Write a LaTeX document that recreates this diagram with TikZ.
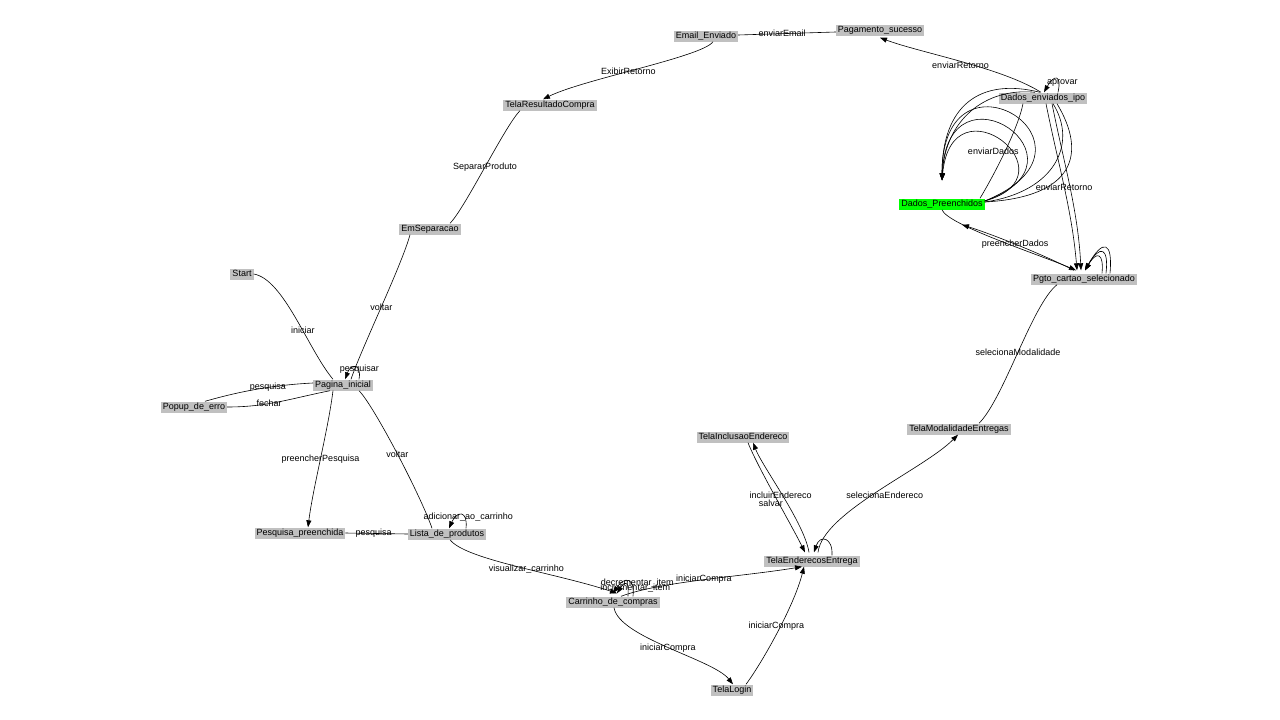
\documentclass[tikz,border=0pt]{standalone}
\usepackage{fontspec}
\setmainfont{Liberation Sans}
\usetikzlibrary{arrows.meta}
\definecolor{cinza}{RGB}{192,192,192}
\definecolor{verde}{RGB}{0,255,0}

\begin{document}
\begin{tikzpicture}[x=1pt, y=-1pt,
    estado/.style={fill=cinza, inner xsep=2pt, inner ysep=1pt, text height=7pt, text depth=2pt, font=\fontsize{9}{10}\selectfont},
    rot/.style={inner sep=0pt, font=\fontsize{9}{10}\selectfont},
    linha/.style={draw, line width=0.6pt},
    seta/.style={linha, -{Triangle[length=7pt,width=5pt]}}]

            \useasboundingbox (0,0) rectangle (1280,720);

            % Etats
            \node[estado] (A) at (242,274) {Start};
            \node[estado] (B) at (343,385) {Pagina\_inicial};
            \node[estado] (C) at (194,407) {Popup\_de\_erro};
            \node[estado] (D) at (300,533) {Pesquisa\_preenchida};
            \node[estado] (E) at (447,534) {Lista\_de\_produtos};
            \node[estado] (F) at (613,602) {Carrinho\_de\_compras};
            \node[estado] (G) at (732,690) {TelaLogin};
            \node[estado] (H) at (812,561) {TelaEnderecosEntrega};
            \node[estado] (I) at (743,437) {TelaInclusaoEndereco};
            \node[estado] (J) at (959,429) {TelaModalidadeEntregas};
            \node[estado] (K) at (1084,279) {Pgto\_cartao\_selecionado};
            \node[estado, fill=verde] (L) at (942,204) {Dados\_Preenchidos};
            \node[estado] (M) at (1043,98) {Dados\_enviados\_ipo};
            \node[estado] (N) at (880,30) {Pagamento\_sucesso};
            \node[estado] (O) at (706,36) {Email\_Enviado};
            \node[estado] (P) at (550,105) {TelaResultadoCompra};
            \node[estado] (Q) at (430,229) {EmSeparacao};

            % Transitions
            \draw[linha] (A.east) .. controls +(30,5) and +(-25,-30) .. ([xshift=-10pt]B.north) node[rot,pos=.6] {iniciar};
            \draw[seta] ([xshift=16pt]B.north) .. controls +(3,-16) and +(6,-16) .. ([xshift=2pt]B.north) node[rot,pos=.5,xshift=4pt,yshift=-2pt] {pesquisar};
            \draw[linha] ([yshift=2pt]B.west) .. controls +(-40,2) and +(35,-10) .. ([xshift=11pt]C.north) node[rot,pos=.4] {pesquisa};
            \draw[linha] (C.east) .. controls +(40,0) and +(-40,8) .. ([xshift=-13pt]B.south) node[rot,pos=.4] {fechar};
            \draw[seta] ([xshift=-10pt]B.south) .. controls +(-5,40) and +(5,-40) .. ([xshift=8pt]D.north) node[rot,pos=.5] {preencherPesquisa};
            \draw[linha] ([xshift=16pt]B.south) .. controls +(15,15) and +(-10,-30) .. ([xshift=-15pt]E.north) node[rot,pos=.5] {voltar};
            \draw[linha] ([xshift=-20pt]Q.south) .. controls +(-8,30) and +(10,-30) .. ([xshift=8pt]B.north) node[rot,pos=.5] {voltar};
            \draw[linha] (D.east) -- (E.west) node[rot,pos=.45] {pesquisa};
            \draw[seta] ([xshift=19pt]E.north) .. controls +(2,-18) and +(8,-18) .. ([xshift=2pt]E.north) node[rot,pos=.5,xshift=7pt,yshift=-2pt] {adicionar\_ao\_carrinho};
            \draw[seta] ([xshift=3pt]E.south) .. controls +(15,20) and +(-60,-20) .. ([xshift=4pt,yshift=3pt]F.north) node[rot,pos=.55] {visualizar\_carrinho};
            \draw[seta] ([xshift=20pt]F.north) .. controls +(2,-18) and +(12,-18) .. ([yshift=3pt]F.north) node[rot,pos=.5,xshift=9pt,yshift=-2pt] {decrementar\_item};
            \draw[seta] ([xshift=15pt]F.north) .. controls +(1,-14) and +(9,-14) .. ([xshift=4pt,yshift=3pt]F.north) node[rot,pos=.5,xshift=9pt,yshift=-4pt] {incrementar\_item};
            \draw[seta] ([xshift=8pt]F.north) .. controls +(40,-15) and +(-60,10) .. ([xshift=-10pt]H.south) node[rot,pos=.5] {iniciarCompra};
            \draw[seta] ([xshift=1pt]F.south) .. controls +(5,30) and +(-20,-25) .. ([xshift=1pt]G.north) node[rot,pos=.5] {iniciarCompra};
            \draw[seta] ([xshift=14pt]G.north) .. controls +(15,-20) and +(-10,40) .. ([xshift=-8pt]H.south) node[rot,pos=.55,xshift=-4pt] {iniciarCompra};
            \draw[seta] ([xshift=5pt]I.south) .. controls +(10,25) and +(-15,-30) .. ([xshift=-7pt,yshift=3pt]H.north) node[rot,pos=.5,xshift=6pt] {incluirEndereco};
            \draw[seta] ([xshift=-3pt,yshift=3pt]H.north) .. controls +(-5,-30) and +(10,25) .. ([xshift=10pt]I.south) node[rot,pos=.5,xshift=-12pt,yshift=-8pt] {salvar};
            \draw[seta] ([xshift=20pt]H.north) .. controls +(1,-18) and +(6,-18) .. ([xshift=2pt,yshift=3pt]H.north);
            \draw[seta] ([xshift=6pt,yshift=3pt]H.north) .. controls +(5,-40) and +(-35,35) .. ([xshift=-1pt]J.south) node[rot,pos=.5,xshift=8pt,yshift=-4pt] {selecionaEndereco};
            \draw[linha] ([xshift=20pt]J.north) .. controls +(25,-25) and +(-25,20) .. ([xshift=-27pt]K.south) node[rot,pos=.5] {selecionaModalidade};
            \draw[seta] ([xshift=18pt]K.north) .. controls +(2,-20) and +(12,-20) .. ([xshift=1pt,yshift=3pt]K.north);
            \draw[seta] ([xshift=22pt]K.north) .. controls +(3,-26) and +(15,-26) .. ([xshift=1pt,yshift=3pt]K.north);
            \draw[seta] ([xshift=26pt]K.north) .. controls +(3,-32) and +(18,-32) .. ([xshift=1pt,yshift=3pt]K.north);
            \draw[seta] (L.south) .. controls +(5,15) and +(-35,-15) .. ([xshift=-8pt,yshift=3pt]K.north) node[rot,pos=.6,yshift=3pt] {preencherDados};
            \draw[seta] ([xshift=-10pt,yshift=3pt]K.north) .. controls +(-40,-20) and +(25,8) .. ([xshift=20pt,yshift=-15pt]L.south);
            \draw[seta] ([xshift=3pt]M.south) .. controls +(12,60) and +(-5,-60) .. ([xshift=-7pt,yshift=3pt]K.north) node[rot,pos=.5] {enviarRetorno};
            \draw[seta] ([xshift=9pt]M.south) .. controls +(12,60) and +(-3,-60) .. ([xshift=-3pt,yshift=3pt]K.north);
            \draw[seta] ([xshift=15pt]M.north) .. controls +(4,-18) and +(10,-18) .. ([xshift=1pt]M.north) node[rot,pos=.5,xshift=6pt,yshift=-4pt] {aprovar};
            \draw[seta] ([xshift=-2pt]M.north) .. controls +(-40,-25) and +(40,15) .. ([yshift=-2pt]N.south) node[rot,pos=.5,yshift=-4pt] {enviarRetorno};
            \draw[linha] ([yshift=-2pt]N.west) -- ([yshift=1pt]O.east) node[rot,pos=.55] {enviarEmail};
            \draw[seta] ([xshift=7pt]O.south) .. controls +(-10,15) and +(40,-20) .. ([xshift=-7pt]P.north) node[rot,pos=.55] {ExibirRetorno};
            \draw[linha] ([xshift=-30pt]P.south) .. controls +(-15,15) and +(15,-15) .. ([xshift=20pt]Q.north) node[rot,pos=.5] {SepararProduto};
            \draw[linha] ([xshift=38pt]L.north) .. controls +(15,-25) and +(-5,25) .. ([xshift=-20pt]M.south) node[rot,pos=.5,xshift=-12pt] {enviarDados};
            \draw[seta] ([yshift=3pt]L.east) .. controls +(93,-26) and +(10,-105) .. ([yshift=18pt]L.north);
            \draw[seta] ([yshift=3pt]L.east) .. controls +(115,-40) and +(5,-125) .. ([yshift=18pt]L.north);
            \draw[seta] ([yshift=3pt]L.east) .. controls +(135,-55) and +(0,-145) .. ([yshift=18pt]L.north);
            \draw[seta] ([xshift=-3pt]M.north) .. controls +(-60,-15) and +(0,-75) .. ([yshift=18pt]L.north);
            \draw[seta] ([xshift=-8pt]M.north) .. controls +(-50,-5) and +(3,-60) .. ([yshift=18pt]L.north);
            \draw[linha] ([yshift=2pt]L.east) .. controls +(70,-10) and +(25,40) .. ([xshift=10pt]M.south);
            \draw[linha] ([yshift=2pt]L.east) .. controls +(90,-5) and +(30,50) .. ([xshift=14pt]M.south);

\end{tikzpicture}
\end{document}
